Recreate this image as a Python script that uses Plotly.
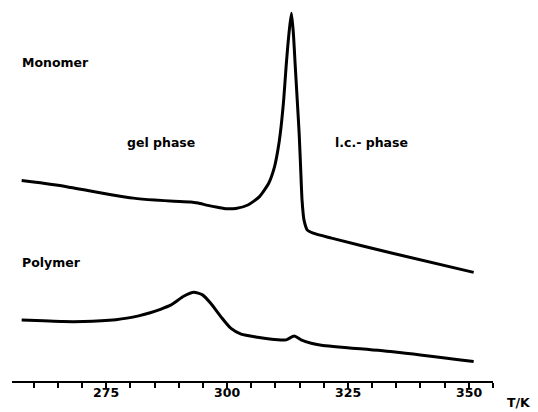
import plotly.graph_objects as go

# Monomer trace (temperature in K, signal in arbitrary units)
mono_T = [257.5, 262.0, 266.8, 272.0, 276.0, 280.6, 285.0, 289.0, 292.5, 294.0,
          296.0, 298.0, 300.0, 301.8, 304.3, 306.7,
          308.6, 309.8, 310.5, 311.0, 311.7, 312.2, 312.8, 313.3, 313.7, 314.1,
          314.5, 314.9, 315.2, 315.5, 315.9, 316.6, 317.8, 321.6, 334.0, 351.0]
mono_S = [52.6, 51.9, 51.0, 49.8, 48.9, 48.0, 47.5, 47.2, 47.0, 46.7,
          46.1, 45.6, 45.2, 45.3, 46.2, 48.4,
          51.9, 56.2, 60.6, 65.0, 73.8, 82.5, 91.3, 96.5, 91.3, 82.5,
          73.8, 65.0, 56.2, 47.5, 42.3, 39.6, 38.8, 37.5, 33.6, 28.5]

# Polymer trace
poly_T = [257.5, 262.0, 266.0, 270.3, 274.0, 277.0, 279.3, 281.7, 284.1, 286.2,
          288.3, 291.1, 293.1, 294.9, 296.6, 298.7,
          300.8, 302.9, 306.3, 310.5, 312.2, 313.9, 315.3, 317.4, 319.5, 334.7, 351.0]
poly_S = [16.0, 15.8, 15.6, 15.6, 15.8, 16.1, 16.5, 17.1, 17.9, 18.8,
          19.9, 22.3, 23.3, 22.6, 20.4, 16.9,
          13.8, 12.3, 11.5, 10.8, 10.8, 11.8, 10.8, 9.9, 9.4, 7.6, 5.1]

tick_vals = list(range(260, 356, 5))
label_vals = [275, 300, 325, 350]

label_font = dict(family="DejaVu Sans", size=12.5, color="black", weight="bold")

fig = go.Figure()
for T, S in ((mono_T, mono_S), (poly_T, poly_S)):
    fig.add_trace(go.Scatter(x=T, y=S, mode="lines",
                             line=dict(color="black", width=3, shape="spline", smoothing=0.6),
                             hoverinfo="skip", showlegend=False))

annots = [
    ("Monomer", 257.2, 83.7),
    ("gel phase", 278.8, 62.5),
    ("l.c.- phase", 322.0, 62.5),
    ("Polymer", 257.2, 31.2),
]
for txt, x, y in annots:
    fig.add_annotation(x=x, y=y, text=txt, showarrow=False, xanchor="left",
                       yanchor="middle", font=label_font)

for v in label_vals:
    fig.add_annotation(x=v, y=0, yref="paper", text=str(v), showarrow=False,
                       xanchor="center", yanchor="top", yshift=-2, font=label_font)

fig.add_annotation(x=1.025, y=0, xref="paper", yref="paper", text="T/K",
                   showarrow=False, xanchor="left", yanchor="top", yshift=-12,
                   font=label_font)

fig.update_layout(
    width=538, height=412,
    margin=dict(l=12, r=45, t=0, b=31),
    paper_bgcolor="white", plot_bgcolor="white",
    xaxis=dict(range=[255.5, 355], showgrid=False, zeroline=False,
               showline=True, linecolor="black", linewidth=2,
               ticks="outside", ticklen=5, tickwidth=2, tickcolor="black",
               tickvals=tick_vals, showticklabels=False),
    yaxis=dict(range=[0, 100], visible=False),
)

fig.write_html("out.html")
